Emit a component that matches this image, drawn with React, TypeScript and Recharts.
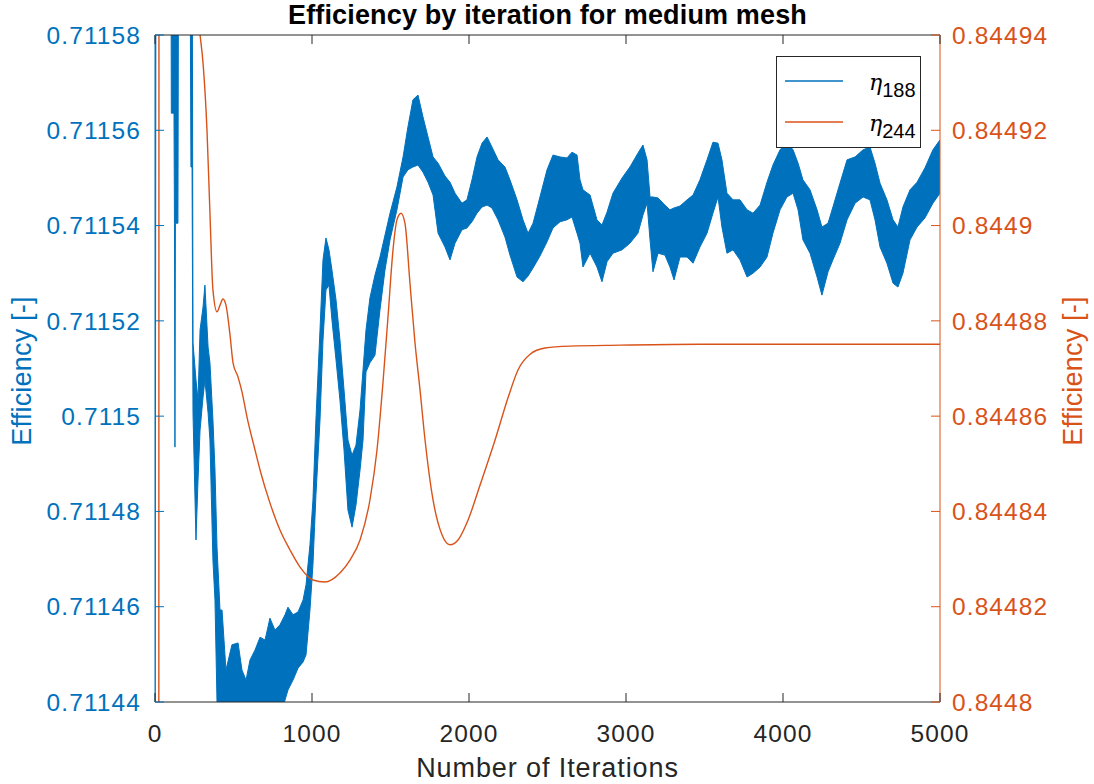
import { Area, ComposedChart, Line, XAxis, YAxis } from 'recharts'

const BLUE = '#0072BD'
const ORANGE = '#D95319'
const AXIS = '#262626'
const FONT = '"Liberation Sans", Arial, Helvetica, sans-serif'

const iterationTicks = [0, 1000, 2000, 3000, 4000, 5000]
const leftTicks = [0.71144, 0.71146, 0.71148, 0.7115, 0.71152, 0.71154, 0.71156, 0.71158]
const rightTicks = [0.8448, 0.84482, 0.84484, 0.84486, 0.84488, 0.8449, 0.84492, 0.84494]

// eta_188 is a noisy band: lower and upper envelope
const eta188Iter = [
  0, 6, 102, 104, 121, 124, 127, 130, 146, 150,
  223, 229, 236, 242, 261, 274, 287, 306, 318, 338,
  350, 369, 382, 395, 414, 427, 452, 490, 529, 554,
  580, 605, 637, 669, 701, 732, 764, 796, 828, 847,
  879, 911, 943, 962, 987, 1006, 1025, 1051, 1070, 1089,
  1108, 1127, 1153, 1178, 1204, 1229, 1255, 1280, 1306, 1325,
  1344, 1369, 1401, 1433, 1465, 1497, 1541, 1580, 1611, 1643,
  1675, 1707, 1739, 1771, 1803, 1847, 1879, 1911, 1955, 1987,
  2019, 2051, 2083, 2115, 2146, 2185, 2229, 2261, 2306, 2344,
  2376, 2408, 2452, 2497, 2535, 2580, 2624, 2656, 2688, 2707,
  2726, 2771, 2815, 2847, 2879, 2917, 2975, 3025, 3076, 3108,
  3134, 3153, 3172, 3204, 3248, 3280, 3306, 3344, 3389, 3427,
  3471, 3516, 3554, 3586, 3611, 3643, 3682, 3726, 3771, 3809,
  3854, 3898, 3936, 3981, 4025, 4064, 4096, 4127, 4172, 4217,
  4248, 4287, 4318, 4363, 4408, 4459, 4510, 4554, 4586, 4618,
  4662, 4701, 4732, 4764, 4809, 4854, 4904, 4955, 5000,
]

const eta188Low = [
  0.7114, 0.7116, 0.7116, 0.7115636, 0.7115636, 0.7115405, 0.7114935, 0.7115405, 0.7115405, 0.7116,
  0.7116, 0.7115523, 0.7115523, 0.7115007, 0.711474, 0.7114866, 0.7114971, 0.711504, 0.7115076, 0.7115007,
  0.711495, 0.7114698, 0.7114614, 0.71144, 0.711436, 0.711436, 0.711436, 0.711436, 0.711436, 0.711436,
  0.711436, 0.711436, 0.711436, 0.711436, 0.711436, 0.711436, 0.7114383, 0.711436, 0.7114404, 0.7114425,
  0.7114446, 0.7114471, 0.7114484, 0.7114499, 0.7114593, 0.7114688, 0.7114834, 0.7114992, 0.711516, 0.7115265,
  0.7115275, 0.7115202, 0.7115118, 0.7115034, 0.7114929, 0.7114803, 0.7114767, 0.7114813, 0.7114887, 0.711495,
  0.7115093, 0.7115112, 0.7115128, 0.7115223, 0.7115307, 0.711537, 0.7115433, 0.7115502, 0.7115517, 0.7115523,
  0.7115527, 0.7115512, 0.7115491, 0.7115464, 0.7115384, 0.7115355, 0.7115328, 0.7115363, 0.7115391, 0.7115395,
  0.7115408, 0.7115426, 0.7115439, 0.7115443, 0.7115437, 0.7115412, 0.7115376, 0.7115338, 0.7115292, 0.7115282,
  0.7115294, 0.7115311, 0.7115336, 0.7115366, 0.7115395, 0.7115408, 0.7115412, 0.7115418, 0.7115384, 0.7115363,
  0.7115313, 0.7115342, 0.7115313, 0.7115282, 0.7115324, 0.7115342, 0.7115349, 0.7115363, 0.7115384, 0.7115422,
  0.7115447, 0.711537, 0.7115303, 0.7115342, 0.7115338, 0.7115313, 0.7115286, 0.7115334, 0.7115334, 0.7115321,
  0.7115355, 0.7115384, 0.7115426, 0.711546, 0.7115397, 0.7115342, 0.7115349, 0.7115328, 0.7115292, 0.71153,
  0.7115313, 0.7115334, 0.7115384, 0.7115433, 0.711546, 0.7115468, 0.7115433, 0.711537, 0.7115342, 0.7115292,
  0.7115254, 0.7115303, 0.7115328, 0.7115363, 0.7115412, 0.7115447, 0.711546, 0.7115454, 0.7115412, 0.7115355,
  0.7115321, 0.7115279, 0.7115271, 0.71153, 0.711537, 0.7115397, 0.7115416, 0.7115447, 0.7115468,
]

const eta188High = [
  0.71162, 0.71162, 0.71162, 0.71162, 0.71162, 0.71162, 0.71162, 0.71162, 0.71162, 0.71162,
  0.71162, 0.71162, 0.71162, 0.7115154, 0.7115076, 0.7115034, 0.7115181, 0.7115229, 0.7115275, 0.7115145,
  0.7115112, 0.7114992, 0.7114887, 0.7114725, 0.7114593, 0.7114593, 0.7114467, 0.711452, 0.7114524, 0.7114467,
  0.7114446, 0.7114488, 0.7114509, 0.7114536, 0.711453, 0.7114576, 0.7114551, 0.7114562, 0.7114583, 0.7114599,
  0.7114583, 0.7114589, 0.7114614, 0.7114646, 0.711473, 0.7114824, 0.7114992, 0.7115181, 0.7115328, 0.7115374,
  0.7115349, 0.7115307, 0.7115244, 0.711516, 0.7115055, 0.711495, 0.7114918, 0.7114939, 0.7115013, 0.7115097,
  0.7115181, 0.7115248, 0.7115296, 0.7115334, 0.711538, 0.7115426, 0.7115481, 0.7115544, 0.7115607, 0.7115664,
  0.7115674, 0.7115628, 0.7115586, 0.7115544, 0.7115531, 0.7115504, 0.7115491, 0.7115468, 0.7115447, 0.7115454,
  0.7115496, 0.7115544, 0.7115573, 0.7115586, 0.7115565, 0.7115538, 0.7115523, 0.7115496, 0.7115454, 0.7115412,
  0.7115384, 0.7115405, 0.711546, 0.7115517, 0.7115548, 0.7115544, 0.7115542, 0.7115554, 0.7115548, 0.7115496,
  0.7115475, 0.7115464, 0.7115412, 0.7115401, 0.7115428, 0.7115468, 0.71155, 0.7115523, 0.7115552, 0.7115569,
  0.7115538, 0.711546, 0.711546, 0.7115458, 0.7115443, 0.7115433, 0.7115437, 0.7115441, 0.7115454, 0.7115464,
  0.7115496, 0.7115538, 0.7115575, 0.7115573, 0.7115538, 0.7115468, 0.7115454, 0.7115454, 0.7115433, 0.7115426,
  0.7115443, 0.7115491, 0.7115527, 0.7115559, 0.7115575, 0.7115559, 0.7115531, 0.7115496, 0.7115475, 0.7115433,
  0.7115397, 0.7115405, 0.7115439, 0.7115489, 0.7115538, 0.7115544, 0.7115559, 0.7115565, 0.7115531, 0.7115489,
  0.7115454, 0.7115412, 0.7115397, 0.7115439, 0.7115475, 0.7115491, 0.7115521, 0.7115559, 0.711558,
]

const eta244Iter = [
  24, 26, 268, 287, 306, 331, 350, 369, 395, 414,
  433, 452, 478, 497, 529, 554, 586, 637, 669, 732,
  796, 860, 924, 1006, 1083, 1178, 1242, 1306, 1369, 1414,
  1452, 1484, 1516, 1541, 1567, 1592, 1624, 1656, 1688, 1720,
  1771, 1828, 1879, 1930, 1994, 2070, 2166, 2248, 2312, 2389,
  2484, 2643, 2962, 3471, 5000,
]

const eta244 = [
  0.8447, 0.845, 0.8449457, 0.84494, 0.8449341, 0.8449201, 0.8449026, 0.8448865, 0.8448819, 0.8448833,
  0.8448846, 0.8448833, 0.844877, 0.8448712, 0.8448682, 0.8448651, 0.8448598, 0.8448529, 0.8448487, 0.8448418,
  0.8448361, 0.8448319, 0.8448283, 0.8448256, 0.8448252, 0.8448271, 0.8448298, 0.844834, 0.8448424, 0.8448529,
  0.844867, 0.8448808, 0.8448949, 0.8449012, 0.8449026, 0.8449005, 0.8448879, 0.8448754, 0.8448655, 0.844855,
  0.8448424, 0.8448351, 0.844833, 0.844834, 0.8448382, 0.8448455, 0.844855, 0.8448638, 0.8448697, 0.844873,
  0.8448743, 0.8448747, 0.8448749, 0.8448751, 0.8448751,
]

const bandData = eta188Iter.map((it, i) => ({ it, band: [eta188Low[i], eta188High[i]] }))
const lineData = eta244Iter.map((it, i) => ({ it, eta: eta244[i] }))

const fmt = (v: number) => String(parseFloat(v.toFixed(5)))

function LeftTick({ x, y, payload }: any) {
  return (
    <g>
      <line x1={x} x2={x + 9} y1={y} y2={y} stroke={BLUE} />
      <text x={x - 14} y={y} dy={8.7} textAnchor='end' fill={BLUE} fontSize={24.5} fontFamily={FONT} letterSpacing={1.1}>
        {fmt(payload.value)}
      </text>
    </g>
  )
}

function RightTick({ x, y, payload }: any) {
  return (
    <g>
      <line x1={x - 9} x2={x} y1={y} y2={y} stroke={ORANGE} />
      <text x={x + 12} y={y} dy={8.7} textAnchor='start' fill={ORANGE} fontSize={24.5} fontFamily={FONT} letterSpacing={1.1}>
        {fmt(payload.value)}
      </text>
    </g>
  )
}

function BottomTick({ x, y, payload }: any) {
  return (
    <g>
      <line x1={x} x2={x} y1={y - 9} y2={y} stroke={AXIS} />
      <text x={x} y={y + 40} textAnchor='middle' fill={AXIS} fontSize={24.5} fontFamily={FONT} letterSpacing={1.1}>
        {payload.value}
      </text>
    </g>
  )
}

function TopTick({ x, y }: any) {
  return <line x1={x} x2={x} y1={y} y2={y + 9} stroke={AXIS} />
}

export default function App() {
  return (
    <div style={{ position: 'absolute', left: 0, top: 0, width: 1094, height: 784, background: '#fff' }}>
      <ComposedChart width={1094} height={784} margin={{ top: 34, right: 0, bottom: 0, left: 0 }}>
        <XAxis
          xAxisId='bottom'
          type='number'
          dataKey='it'
          domain={[0, 5000]}
          ticks={iterationTicks}
          interval={0}
          height={82}
          stroke={AXIS}
          tickSize={0}
          tickMargin={0}
          tickLine={false}
          tick={<BottomTick />}
          allowDataOverflow
        />
        <XAxis
          xAxisId='top'
          orientation='top'
          type='number'
          dataKey='it'
          domain={[0, 5000]}
          ticks={iterationTicks}
          interval={0}
          height={1}
          stroke={AXIS}
          tickSize={0}
          tickMargin={0}
          tickLine={false}
          tick={<TopTick />}
          allowDataOverflow
        />
        <YAxis
          yAxisId='left'
          orientation='left'
          type='number'
          domain={[0.71144, 0.71158]}
          ticks={leftTicks}
          interval={0}
          width={155}
          stroke={BLUE}
          tickSize={0}
          tickMargin={0}
          tickLine={false}
          tick={<LeftTick />}
          allowDataOverflow
        />
        <YAxis
          yAxisId='right'
          orientation='right'
          type='number'
          domain={[0.8448, 0.84494]}
          ticks={rightTicks}
          interval={0}
          width={154}
          stroke={ORANGE}
          tickSize={0}
          tickMargin={0}
          tickLine={false}
          tick={<RightTick />}
          allowDataOverflow
        />
        <Area
          xAxisId='bottom'
          yAxisId='left'
          data={bandData}
          dataKey='band'
          type='linear'
          stroke={BLUE}
          strokeWidth={1}
          fill={BLUE}
          fillOpacity={1}
          dot={false}
          activeDot={false}
          isAnimationActive={false}
        />
        <Line
          xAxisId='bottom'
          yAxisId='right'
          data={lineData}
          dataKey='eta'
          type='monotone'
          stroke={ORANGE}
          strokeWidth={1.4}
          dot={false}
          activeDot={false}
          isAnimationActive={false}
        />
      </ComposedChart>

      <svg width={1094} height={784} style={{ position: 'absolute', left: 0, top: 0, pointerEvents: 'none' }}>
        <text x={547.5} y={24} textAnchor='middle' fontFamily={FONT} fontWeight='bold' fontSize={27} fill='#000' letterSpacing={0.15}>
          Efficiency by iteration for medium mesh
        </text>
        <text x={547.5} y={777} textAnchor='middle' fontFamily={FONT} fontSize={27} fill={AXIS} letterSpacing={0.9}>
          Number of Iterations
        </text>
        <text
          transform='translate(31,371) rotate(-90)'
          textAnchor='middle'
          fontFamily={FONT}
          fontSize={27}
          fill={BLUE}
          letterSpacing={0.2}
        >
          Efficiency [-]
        </text>
        <text
          transform='translate(1082,371) rotate(-90)'
          textAnchor='middle'
          fontFamily={FONT}
          fontSize={27}
          fill={ORANGE}
          letterSpacing={0.2}
        >
          Efficiency [-]
        </text>

        <rect x={776.5} y={56.5} width={144} height={91} fill='#fff' stroke={AXIS} />
        <line x1={785} x2={843} y1={81} y2={81} stroke={BLUE} strokeWidth={1.4} />
        <line x1={785} x2={843} y1={122} y2={122} stroke={ORANGE} strokeWidth={1.4} />
        <text x={869} y={90} fill='#000'>
          <tspan fontFamily='"DejaVu Serif", serif' fontStyle='italic' fontSize={22}>η</tspan>
          <tspan dy={7} fontFamily={FONT} fontSize={20}>188</tspan>
        </text>
        <text x={869} y={131} fill='#000'>
          <tspan fontFamily='"DejaVu Serif", serif' fontStyle='italic' fontSize={22}>η</tspan>
          <tspan dy={7} fontFamily={FONT} fontSize={20}>244</tspan>
        </text>
      </svg>
    </div>
  )
}
